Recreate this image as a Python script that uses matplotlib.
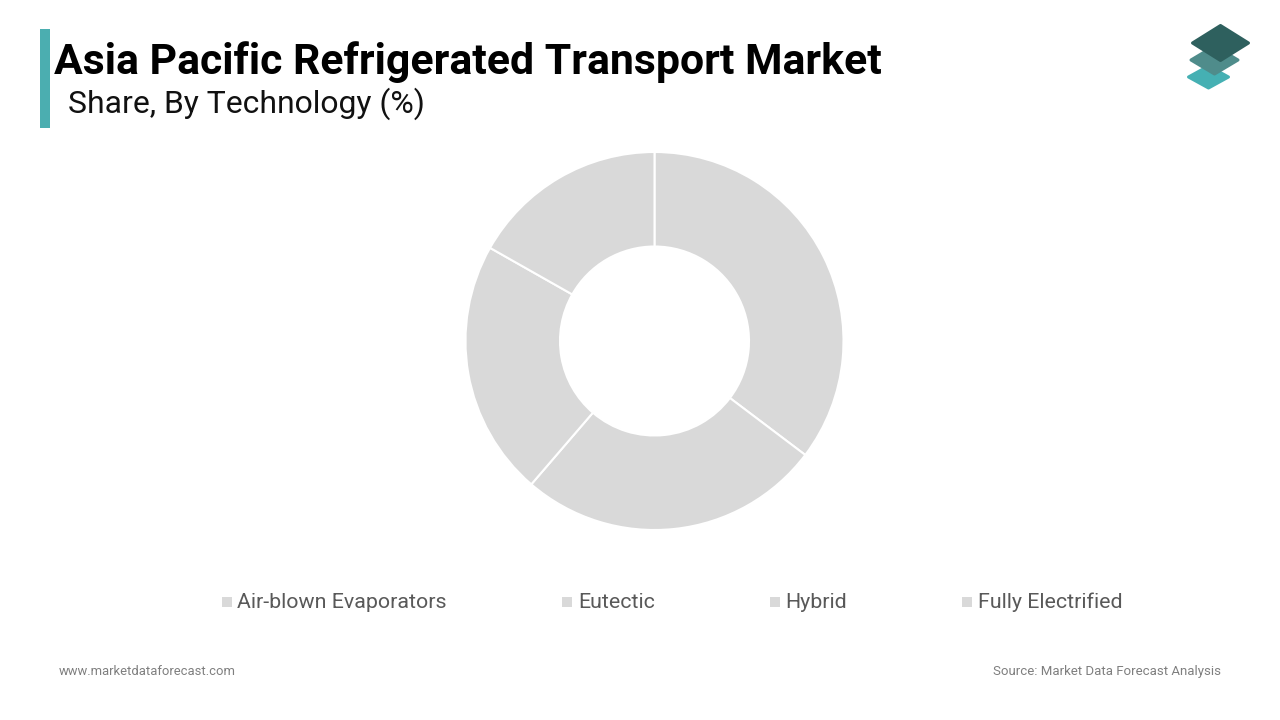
import matplotlib
matplotlib.use("Agg")
import matplotlib.pyplot as plt
from matplotlib.patches import Polygon, Rectangle

categories = ["Air-blown Evaporators", "Eutectic", "Hybrid", "Fully Electrified"]
shares = [35.3, 26.0, 21.9, 16.8]
title = "Asia Pacific Refrigerated Transport Market"
subtitle = "Share, By Technology (%)"
footer_left = "www.marketdataforecast.com"
footer_right = "Source: Market Data Forecast Analysis"

W, H = 1280, 720
plt.rcParams['font.family'] = ['Roboto', 'DejaVu Sans']
fig = plt.figure(figsize=(W/100, H/100), dpi=100, facecolor='white')

# overlay in pixel coordinates
bg = fig.add_axes([0, 0, 1, 1])
bg.set_xlim(0, W); bg.set_ylim(H, 0); bg.axis('off')

bg.add_patch(Rectangle((40, 29), 10, 99, color='#4BAEB0', lw=0))
bg.text(54.5, 74, title, fontsize=30.8, fontweight='bold', color='#000000', va='baseline', ha='left')
bg.text(67.5, 113, subtitle, fontsize=22.95, color='#111111', va='baseline', ha='left')

# logo
def diamond(cx, cy, hw, hh, color, z):
    bg.add_patch(Polygon([(cx-hw, cy), (cx, cy-hh), (cx+hw, cy), (cx, cy+hh)], closed=True,
                         facecolor=color, edgecolor=color, lw=2.2, joinstyle='round', zorder=z))
diamond(1208.5, 77, 20, 11, '#45B0B3', 3)
diamond(1214.5, 60, 23.5, 14, '#4F8C8B', 4)
diamond(1220.5, 43, 28, 17.5, '#2E605E', 5)

# donut
cx, cy, R = 654.5, 341, 189
ax = fig.add_axes([(cx-R)/W, 1-(cy+R)/H, 2*R/W, 2*R/H])
ax.pie(shares, startangle=90, counterclock=False, radius=1, colors=['#D9D9D9']*4,
       wedgeprops=dict(width=1-94.5/R, edgecolor='white', linewidth=1.5))
ax.set_xlim(-1, 1); ax.set_ylim(-1, 1); ax.set_aspect('equal')

# legend
legend_x = [222, 562, 770, 962]
label_x = [237, 578, 785, 978]
for x, tx, label in zip(legend_x, label_x, categories):
    bg.add_patch(Rectangle((x, 596.5), 9.5, 10, color='#D9D9D9', lw=0))
    bg.text(tx, 608, label, fontsize=15.4, color='#595959', va='baseline', ha='left')

bg.text(59, 675, footer_left, fontsize=9.4, color='#7F7F7F', va='baseline', ha='left')
bg.text(1221, 675, footer_right, fontsize=9.5, color='#7F7F7F', va='baseline', ha='right')

fig.savefig('out.png', dpi=100, facecolor='white')
